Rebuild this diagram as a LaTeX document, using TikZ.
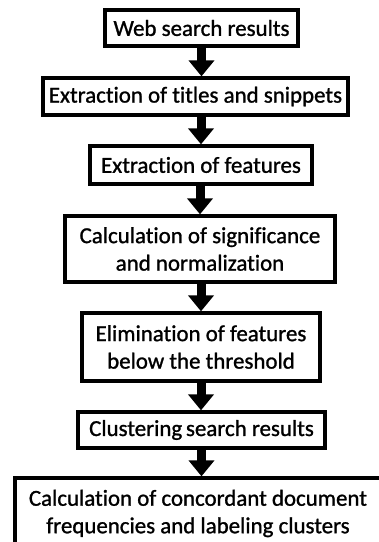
\documentclass[tikz,border=0pt]{standalone}
\usepackage{fontspec}
\newfontfamily\flowfont{Carlito}[UprightFeatures={FakeBold=1.1},Ligatures={NoCommon}]
\usetikzlibrary{arrows.meta}
\begin{document}
\begin{tikzpicture}[x=1pt,y=-1pt,
  flowbox/.style={draw=black,line width=3.3pt,fill=white,inner sep=0pt,
    align=center,font=\flowfont\fontsize{22.9}{27.5}\selectfont},
  flowarrow/.style={line width=9pt,-{Triangle[width=25pt,length=16pt]}}]
\useasboundingbox (0,0) rectangle (379,542);
\clip (0,0) rectangle (379,542);
\fill[white] (0,0) rectangle (379,542);
\node[flowbox,minimum width=193pt,minimum height=36pt] (b1) at (201.5,28) {Web search results};
\node[flowbox,minimum width=305pt,minimum height=37pt] (b2) at (195.5,96.5) {Extraction of titles and snippets};
\node[flowbox,minimum width=222pt,minimum height=38pt] (b3) at (201,165) {Extraction of features};
\node[flowbox,minimum width=270pt,minimum height=66pt] (b4) at (200,249) {Calculation of significance\\and normalization};
\node[flowbox,minimum width=238pt,minimum height=68pt] (b5) at (201,347) {Elimination of features\\below the threshold};
\node[flowbox,minimum width=247pt,minimum height=36pt] (b6) at (201.5,430) {Clustering\,search results};
\node[flowbox,minimum width=366pt,minimum height=71pt] (b7) at (198,513.5) {Calculation of concordant document\\frequencies and labeling clusters};
\draw[flowarrow] (b1.south) -- (b1.south |- b2.north);
\draw[flowarrow] (b2.south -| b3.north) -- (b3.north);
\draw[flowarrow] (b3.south -| b4.north) -- (b4.north);
\draw[flowarrow] (b4.south -| b5.north) -- (b5.north);
\draw[flowarrow] (b5.south) -- (b5.south |- b6.north);
\draw[flowarrow] (b6.south) -- (b6.south |- b7.north);
\end{tikzpicture}
\end{document}
